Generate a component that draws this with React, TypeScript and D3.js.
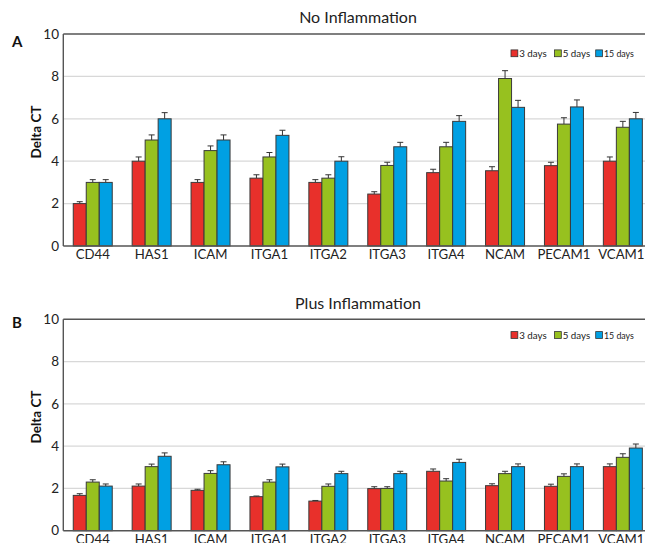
import React from 'react';
import * as d3 from 'd3';

const categories = ['CD44', 'HAS1', 'ICAM', 'ITGA1', 'ITGA2', 'ITGA3', 'ITGA4', 'NCAM', 'PECAM1', 'VCAM1'];
const seriesNames = ['3 days', '5 days', '15 days'];
const seriesColors = ['#e8302b', '#97c11f', '#00a0e3'];
const yTicks = [0, 2, 4, 6, 8, 10];

// Panel A: No Inflammation
const days3A = [2.0, 4.0, 3.0, 3.2, 3.0, 2.45, 3.46, 3.55, 3.79, 4.0];
const days5A = [3.0, 5.0, 4.5, 4.2, 3.2, 3.8, 4.68, 7.9, 5.75, 5.6];
const days15A = [3.0, 6.0, 5.0, 5.22, 4.0, 4.68, 5.88, 6.54, 6.56, 6.0];
const err3A = [0.09, 0.2, 0.13, 0.16, 0.13, 0.11, 0.16, 0.19, 0.16, 0.2];
const err5A = [0.13, 0.24, 0.22, 0.21, 0.16, 0.15, 0.21, 0.37, 0.3, 0.28];
const err15A = [0.13, 0.29, 0.24, 0.24, 0.21, 0.21, 0.27, 0.33, 0.33, 0.3];

// Panel B: Plus Inflammation
const days3B = [1.67, 2.11, 1.91, 1.61, 1.4, 1.99, 2.81, 2.13, 2.1, 3.03];
const days5B = [2.3, 3.03, 2.71, 2.3, 2.1, 2.0, 2.35, 2.7, 2.57, 3.47];
const days15B = [2.11, 3.52, 3.12, 3.02, 2.7, 2.7, 3.23, 3.03, 3.03, 3.91];
const err3B = [0.08, 0.1, 0.05, 0.03, 0.03, 0.09, 0.11, 0.09, 0.1, 0.13];
const err5B = [0.11, 0.12, 0.13, 0.11, 0.11, 0.08, 0.11, 0.11, 0.12, 0.17];
const err15B = [0.1, 0.16, 0.14, 0.13, 0.11, 0.11, 0.15, 0.13, 0.13, 0.19];

const FONT = "Lato, 'Open Sans', sans-serif";
const W = 645;
const H = 543;
const LEFT = 63.3;
const RIGHT = 652.3;

type PanelProps = {
  letter: string;
  title: string;
  yTop: number;
  yBottom: number;
  titleY: number;
  letterY: number;
  legendY: number;
  labelY: number;
  values: number[][];
  errors: number[][];
};

function Panel({ letter, title, yTop, yBottom, titleY, letterY, legendY, labelY, values, errors }: PanelProps) {
  const x0 = d3.scaleBand<string>().domain(categories).range([LEFT, RIGHT]).paddingInner(0.338).paddingOuter(0.169);
  const x1 = d3.scaleBand<string>().domain(seriesNames).range([0, x0.bandwidth()]).padding(0);
  const y = d3.scaleLinear().domain([0, 10]).range([yBottom, yTop]);
  const cap = 3;
  const legendX = [511, 554.5, 595.7];
  const legendW = [27.5, 27.5, 30];
  return (
    <g>
      <text x={358} y={titleY} fontFamily={FONT} fontSize={16} textAnchor="middle" fill="#222">{title}</text>
      <text x={12} y={letterY} fontFamily={FONT} fontSize={15} fontWeight="bold" fill="#111">{letter}</text>
      {yTicks.filter(t => t > 0 && t < 10).map(t => (
        <line key={t} x1={LEFT} x2={W} y1={y(t)} y2={y(t)} stroke="#d8d8d8" strokeWidth={1.2} />
      ))}
      <line x1={LEFT} x2={W} y1={y(10)} y2={y(10)} stroke="#555" strokeWidth={1.4} />
      {yTicks.map(t => (
        <text key={t} x={59} y={y(t)} dy="0.35em" fontFamily={FONT} fontSize={13.5} textAnchor="end" fill="#222">{t}</text>
      ))}
      <text transform={`translate(${41},${(yTop + yBottom) / 2 - 8}) rotate(-90)`} fontFamily={FONT} fontSize={13.5} fontWeight="bold" textAnchor="middle" fill="#111">Delta CT</text>
      {categories.map((c, i) => (
        <g key={c}>
          {seriesNames.map((s, j) => {
            const v = values[j][i];
            const e = errors[j][i];
            const bx = (x0(c) as number) + (x1(s) as number);
            const bw = x1.bandwidth();
            const cx = bx + bw / 2;
            return (
              <g key={s}>
                <line x1={cx} x2={cx} y1={y(v)} y2={y(v + e)} stroke="#333" strokeWidth={1} />
                <line x1={cx - cap} x2={cx + cap} y1={y(v + e)} y2={y(v + e)} stroke="#333" strokeWidth={1} />
                <rect x={bx} y={y(v)} width={bw} height={yBottom - y(v)} fill={seriesColors[j]} stroke="#3a3a3a" strokeWidth={1} />
              </g>
            );
          })}
          <text x={(x0(c) as number) + x0.bandwidth() / 2 - (i === categories.length - 1 ? 1.5 : 0)} y={labelY} fontFamily={FONT} fontSize={13.2} textAnchor="middle" fill="#222">{c}</text>
        </g>
      ))}
      <line x1={LEFT} x2={LEFT} y1={yTop} y2={yBottom} stroke="#555" strokeWidth={1.4} />
      <line x1={LEFT} x2={W} y1={yBottom} y2={yBottom} stroke="#555" strokeWidth={1.4} />
      {seriesNames.map((s, j) => (
        <g key={s}>
          <rect x={legendX[j]} y={legendY - 3.4} width={6.8} height={6.8} fill={seriesColors[j]} stroke="#333" strokeWidth={0.8} />
          <text x={legendX[j] + 8.2} y={legendY} dy="0.36em" fontFamily={FONT} fontSize={10} textLength={legendW[j]} lengthAdjust="spacingAndGlyphs" fill="#222">{s}</text>
        </g>
      ))}
    </g>
  );
}

export default function App() {
  return (
    <svg width={W} height={H} style={{ position: 'absolute', left: 0, top: 0, background: '#fff' }}>
      <rect x={0} y={0} width={W} height={H} fill="#fff" />
      <Panel letter="A" title="No Inflammation" yTop={34} yBottom={246} titleY={23} letterY={47} legendY={53.3} labelY={259}
        values={[days3A, days5A, days15A]} errors={[err3A, err5A, err15A]} />
      <Panel letter="B" title="Plus Inflammation" yTop={319.3} yBottom={530.7} titleY={309} letterY={328} legendY={335} labelY={544}
        values={[days3B, days5B, days15B]} errors={[err3B, err5B, err15B]} />
    </svg>
  );
}
